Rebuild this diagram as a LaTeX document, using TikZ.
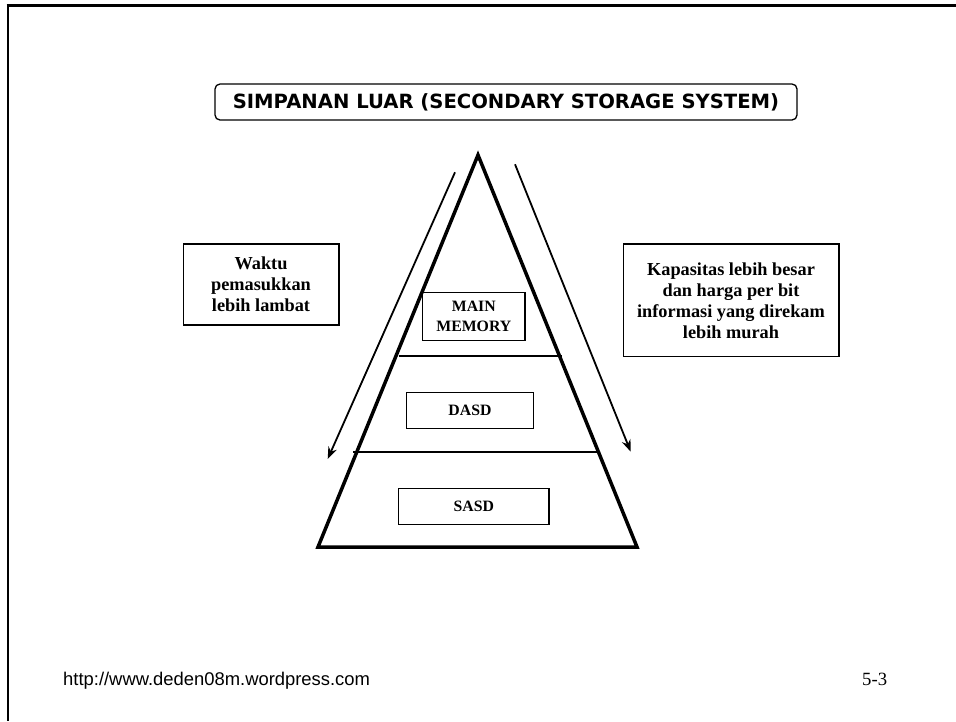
\documentclass[tikz,border=0pt]{standalone}
\usepackage{fontspec}
\setmainfont{Liberation Serif}
\newfontfamily\titlefont{DejaVu Sans}
\newfontfamily\footfont{Liberation Sans}
\usetikzlibrary{arrows.meta}
\begin{document}
\begin{tikzpicture}[x=1pt,y=-1pt,
  sidebox/.style={draw,line width=1.3pt,inner sep=0pt,align=center,
    font=\fontsize{18.3}{21}\selectfont\bfseries},
  layerbox/.style={draw,line width=1.3pt,inner sep=0pt,align=center,
    font=\fontsize{15.8}{19.5}\selectfont\bfseries},
  tri/.style={line width=3.5pt,line join=miter},
  layerline/.style={line width=2pt},
  flow/.style={line width=1.8pt,-{Stealth[length=12pt,width=9pt]}}]
\useasboundingbox (0,0) rectangle (956,721);
% frame
\draw[line width=2.5pt] (6.7,5.3) -- (956,5.3);
\draw[line width=2.7pt] (8,4.1) -- (8,721);
% title
\node[draw,line width=1.3pt,rounded corners=5pt,minimum width=582pt,minimum height=36pt,inner sep=0pt,
  font=\titlefont\fontsize{19.6}{22}\selectfont\bfseries] (title) at (506,102)
  {SIMPANAN LUAR (SECONDARY STORAGE SYSTEM)};
% pyramid
\coordinate (apex) at (478,155);
\coordinate (bl) at (318,547);
\coordinate (br) at (637,547);
\draw[tri] (apex) -- (bl) -- (br) -- cycle;
\coordinate (l1a) at (398.7,355.7);
\coordinate (l1b) at (561.7,355.7);
\coordinate (l2a) at (353,451.7);
\coordinate (l2b) at (596.7,451.7);
\draw[layerline] (l1a) -- (l1b);
\draw[layerline] (l2a) -- (l2b);
% layer boxes
\node[layerbox,minimum width=102.3pt,minimum height=48pt] (mm) at (473.8,316.3) {MAIN\\MEMORY};
\node[layerbox,minimum width=126.7pt,minimum height=36pt] (dasd) at (470,410.3) {DASD};
\node[layerbox,minimum width=150.3pt,minimum height=36pt] (sasd) at (473.8,506.3) {SASD};
% arrows
\coordinate (la1) at (455,172.3);
\coordinate (la2) at (327.7,459);
\coordinate (ra1) at (515,164.3);
\coordinate (ra2) at (630.7,451.7);
\draw[flow] (la1) -- (la2);
\draw[flow] (ra1) -- (ra2);
% side boxes
\node[sidebox,minimum width=155.7pt,minimum height=81pt] (left) at (261,284.5)
  {Waktu\\pemasukkan\\lebih lambat};
\node[sidebox,minimum width=215.7pt,minimum height=112.7pt] (right) at (731,300.3)
  {Kapasitas lebih besar\\dan harga per bit\\informasi yang direkam\\lebih murah};
% footer
\node[anchor=base west,inner sep=0pt,font=\footfont\fontsize{18.4}{21}\selectfont] (url) at (63,685)
  {http://www.deden08m.wordpress.com};
\node[anchor=base west,inner sep=0pt,font=\fontsize{18.7}{21}\selectfont] (page) at (862,685) {5-3};
\end{tikzpicture}
\end{document}
